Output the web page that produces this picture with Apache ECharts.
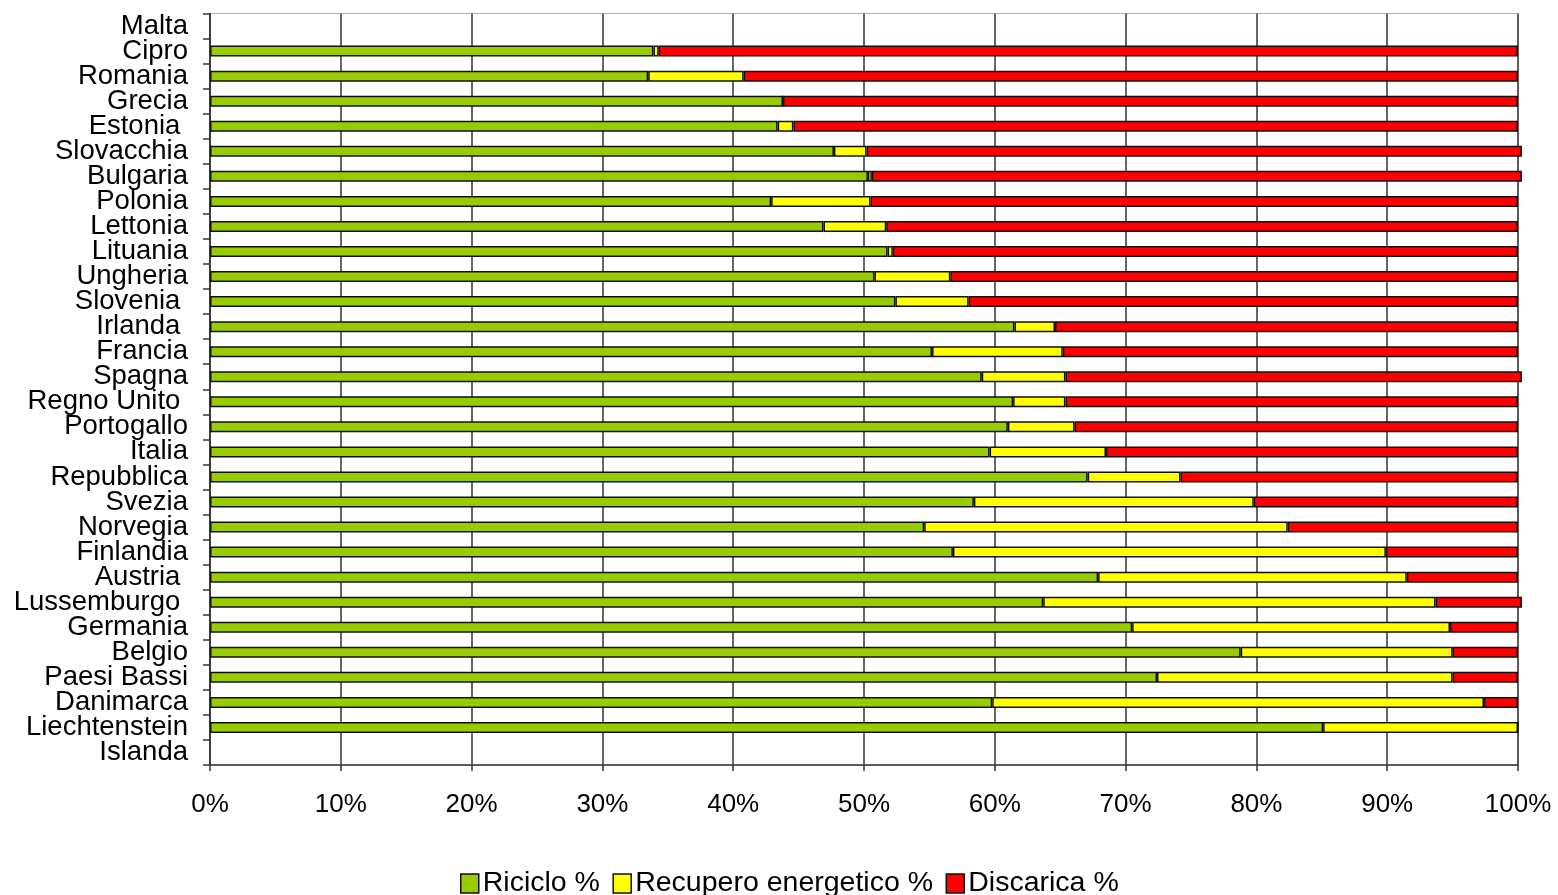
<!DOCTYPE html>
<html>
<head>
<meta charset="utf-8">
<script src="https://cdn.jsdelivr.net/npm/echarts@6/dist/echarts.min.js"></script>
<style>
html,body{margin:0;padding:0;background:#fff;}
#chart{width:1558px;height:895px;}
</style>
</head>
<body>
<div id="chart"></div>
<script>
const categories = ['Malta','Cipro','Romania','Grecia','Estonia ','Slovacchia','Bulgaria','Polonia','Lettonia','Lituania','Ungheria','Slovenia ','Irlanda ','Francia','Spagna','Regno Unito ','Portogallo','Italia','Repubblica','Svezia','Norvegia','Finlandia','Austria ','Lussemburgo ','Germania','Belgio','Paesi Bassi','Danimarca','Liechtenstein','Islanda'];
const riciclo = [null,33.9,33.5,43.8,43.4,47.7,50.3,42.9,46.9,51.8,50.8,52.4,61.5,55.2,59.0,61.4,61.0,59.6,67.1,58.4,54.6,56.8,67.9,63.7,70.5,78.8,72.4,59.8,85.1,null];
const recupero = [null,0.4,7.3,0,1.2,2.5,0.3,7.6,4.8,0.4,5.8,5.6,3.1,10.0,6.4,4.0,5.1,8.9,7.1,21.4,27.8,33.1,23.6,30.0,24.3,16.2,22.6,37.6,14.9,null];
const discarica = [null,65.7,59.2,56.2,55.4,50.1,49.7,49.5,48.3,47.8,43.4,42.0,35.4,34.8,34.9,34.6,33.9,31.5,25.8,20.2,17.6,10.1,8.5,6.6,5.2,5.0,5.0,2.6,0,null];
const seriesNames = ['Riciclo %','Recupero energetico %','Discarica %'];
const xTicks = [0,10,20,30,40,50,60,70,80,90,100];

const FONT = '"Liberation Sans", Arial, sans-serif';
const chart = echarts.init(document.getElementById('chart'), null, {renderer:'canvas'});
function mk(name, data, color){
  return {
    name, type:'bar', stack:'tot', data, barWidth:11, clip:false,
    itemStyle:{color, borderColor:'#111', borderWidth:1.5},
    emphasis:{disabled:true}, animation:false
  };
}
chart.setOption({
  animation:false,
  backgroundColor:'#fff',
  textStyle:{fontFamily:FONT},
  grid:{left:210, right:40, top:13.5, bottom:130, show:true, borderColor:'#b0b0b0', borderWidth:1, backgroundColor:'transparent'},
  legend:{
    data:seriesNames, top:864, left:455, icon:'rect', itemWidth:18, itemHeight:19, itemGap:12.5,
    textStyle:{fontSize:28.5, color:'#000', fontFamily:FONT, padding:[0,0,0,-1]},
    itemStyle:{borderColor:'#111', borderWidth:1.5}
  },
  xAxis:{
    type:'value', min:xTicks[0], max:xTicks[xTicks.length-1], interval:10,
    axisLine:{show:true, lineStyle:{color:'#333', width:1.5}},
    axisTick:{show:true, length:6, lineStyle:{color:'#333', width:1.5}},
    splitLine:{show:true, lineStyle:{color:'#333', width:1.5}},
    axisLabel:{formatter:'{value}%', fontSize:26, color:'#000', margin:27, fontFamily:FONT}
  },
  yAxis:{
    type:'category', inverse:true, data:categories,
    axisLine:{show:true, lineStyle:{color:'#333', width:1.5}},
    axisTick:{show:true, length:7, lineStyle:{color:'#333', width:1.5}},
    axisLabel:{fontSize:27.5, color:'#000', margin:22, fontFamily:FONT, interval:0, padding:[0,0,3,0]},
    splitLine:{show:false}
  },
  series:[
    mk(seriesNames[0], riciclo, '#99CC00'),
    mk(seriesNames[1], recupero, '#FFFF00'),
    mk(seriesNames[2], discarica, '#FF0000')
  ]
});
</script>
</body>
</html>
